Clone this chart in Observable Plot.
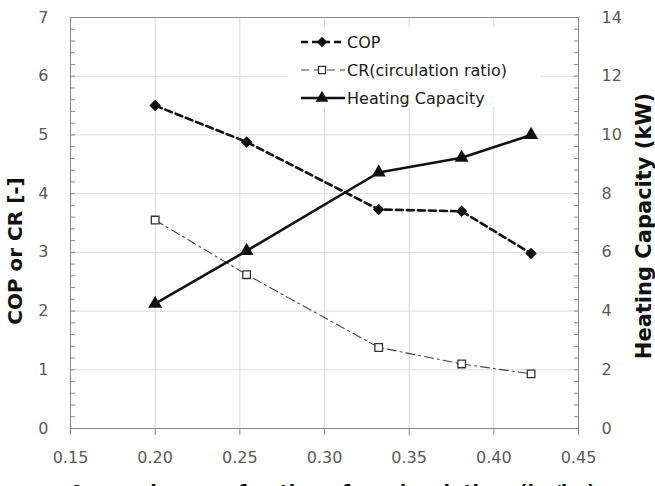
<!DOCTYPE html>
<html>
<head>
<meta charset="utf-8">
<script src="https://cdn.jsdelivr.net/npm/d3@7"></script>
<script src="https://cdn.jsdelivr.net/npm/@observablehq/plot@0.6"></script>
<style>
  html, body { margin: 0; padding: 0; background: #fff; overflow: hidden; }
  #wrap { position: relative; width: 655px; height: 486px; overflow: hidden; }
  #legend {
    position: absolute; left: 288px; top: 27px; width: 252px; height: 80px;
    background: #fff; font-family: "DejaVu Sans", sans-serif; font-size: 16px; color: #1a1a1a;
  }
  #legend .row { position: absolute; left: 0; height: 28px; display: flex; align-items: center; }
  #legend svg { display: block; }
  #legend span { margin-left: 1px; white-space: nowrap; }
</style>
</head>
<body>
<div id="wrap"></div>
<script>
// Weak-solution fraction on the x axis
const xValues = [0.20, 0.254, 0.332, 0.381, 0.422];
// Coefficient of performance [-]
const copValues = [5.50, 4.88, 3.73, 3.70, 2.98];
// Circulation ratio [-]
const crValues = [3.55, 2.62, 1.38, 1.10, 0.93];
// Heating capacity [kW] (right axis, 0–14)
const heatValues = [4.25, 6.05, 8.72, 9.22, 10.0];

const xTicks = [0.15, 0.20, 0.25, 0.30, 0.35, 0.40, 0.45];
const yTicks = [0, 1, 2, 3, 4, 5, 6, 7];
const yMinor = d3.range(0, 36).map(i => i / 5);
const heatPerUnit = 2; // 14 kW on the right spans 7 units on the left

const series = xValues.map((x, i) => ({x, cop: copValues[i], cr: crValues[i], heat: heatValues[i] / heatPerUnit}));

const font = "'DejaVu Sans', sans-serif";
const axisGray = "#898989";
const labelGray = "#595959";

const chart = Plot.plot({
  width: 655,
  height: 486,
  marginLeft: 70,
  marginRight: 77,
  marginTop: 17,
  marginBottom: 58,
  style: {fontFamily: font, background: "#fff", overflow: "hidden"},
  x: {domain: [0.15, 0.45]},
  y: {domain: [0, 7]},
  marks: [
    Plot.gridY(yTicks, {stroke: "#d9d9d9", strokeOpacity: 1}),
    Plot.gridX(xTicks, {stroke: "#d9d9d9", strokeOpacity: 1}),
    Plot.frame({stroke: axisGray}),
    // minor ticks, pointing into the plot
    Plot.axisY(yMinor, {anchor: "left", tickSize: -5, tickFormat: () => "", stroke: axisGray, label: null}),
    Plot.axisY(yMinor, {anchor: "right", tickSize: -5, tickFormat: () => "", stroke: axisGray, label: null}),
    // left and right tick labels
    Plot.axisY(yTicks, {anchor: "left", tickSize: 0, tickPadding: 22, fontSize: 16, fill: labelGray, label: null, tickFormat: d => String(d)}),
    Plot.axisY(yTicks, {anchor: "right", tickSize: 0, tickPadding: 23, fontSize: 16, fill: labelGray, label: null, tickFormat: d => String(d * heatPerUnit)}),
    Plot.axisX(xTicks, {anchor: "bottom", tickSize: 7, tickPadding: 16, fontSize: 16, fill: labelGray, stroke: axisGray, label: null, tickFormat: d3.format(".2f")}),
    // axis titles
    Plot.text(["COP or CR [-]"], {frameAnchor: "left", dx: -55, dy: 28, rotate: -90, textAnchor: "middle", fontSize: 20, fontWeight: "bold", fill: "#111"}),
    Plot.text(["Heating Capacity (kW)"], {frameAnchor: "right", dx: 66, dy: 3, rotate: -90, textAnchor: "middle", fontSize: 21, fontWeight: "bold", fill: "#111"}),
    Plot.text(["Ammonia mass fraction of weak solution  (kg/kg)"], {frameAnchor: "bottom", dy: 57, dx: 8, lineAnchor: "top", textAnchor: "middle", fontSize: 19, fontWeight: "bold", fill: "#111"}),
    // CR: thin dash-dot
    Plot.line(series, {x: "x", y: "cr", stroke: "#444", strokeWidth: 1.1, strokeDasharray: "9,4,2,4"}),
    Plot.dot(series, {x: "x", y: "cr", symbol: "square", r: 4.3, fill: "#fff", stroke: "#333", strokeWidth: 1.3}),
    // COP: bold dashed
    Plot.line(series, {x: "x", y: "cop", stroke: "#111", strokeWidth: 2.6, strokeDasharray: "7,4"}),
    Plot.dot(series, {x: "x", y: "cop", symbol: "diamond2", r: 5.2, fill: "#111", stroke: "none"}),
    // Heating capacity: bold solid
    Plot.line(series, {x: "x", y: "heat", stroke: "#111", strokeWidth: 2.6}),
    Plot.dot(series, {x: "x", y: "heat", symbol: "triangle", r: 5.2, fill: "#111", stroke: "none"})
  ]
});

const wrap = document.getElementById("wrap");
wrap.appendChild(chart);

// legend box drawn over the upper plot area
const legendItems = [
  {name: "COP", dash: "7,4", width: 2.6, color: "#111", symbol: "diamond"},
  {name: "CR(circulation ratio)", dash: "8,5", width: 1.1, color: "#444", symbol: "square"},
  {name: "Heating Capacity", dash: null, width: 2.6, color: "#111", symbol: "triangle"}
];
const legend = document.createElement("div");
legend.id = "legend";
legendItems.forEach((item, i) => {
  const row = document.createElement("div");
  row.className = "row";
  row.style.top = (1 + i * 28) + "px";
  const svg = d3.create("svg").attr("width", 58).attr("height", 28);
  svg.append("line").attr("x1", 13).attr("x2", 57).attr("y1", 14).attr("y2", 14)
    .attr("stroke", item.color).attr("stroke-width", item.width)
    .attr("stroke-dasharray", item.dash);
  const sym = item.symbol === "diamond" ? d3.symbolDiamond2 : item.symbol === "square" ? d3.symbolSquare : d3.symbolTriangle;
  svg.append("path").attr("transform", "translate(34,14)")
    .attr("d", d3.symbol(sym, item.symbol === "square" ? 50 : 70)())
    .attr("fill", item.symbol === "square" ? "#fff" : "#111")
    .attr("stroke", item.symbol === "square" ? "#333" : "none").attr("stroke-width", 1.3);
  row.appendChild(svg.node());
  const label = document.createElement("span");
  label.textContent = item.name;
  row.appendChild(label);
  legend.appendChild(row);
});
wrap.appendChild(legend);
</script>
</body>
</html>
